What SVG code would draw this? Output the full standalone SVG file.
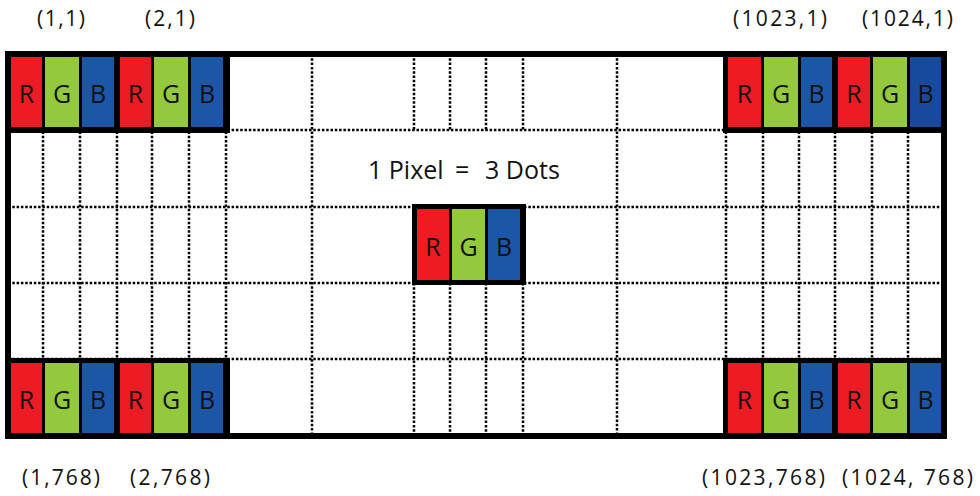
<svg xmlns="http://www.w3.org/2000/svg" width="980" height="496" viewBox="0 0 980 496">
<style>
.dot{stroke:#000;stroke-width:2.5;stroke-dasharray:2.5 1.8;fill:none}
.frame{fill:none;stroke:#000;stroke-width:6}
.blk{fill:#000}
.r{fill:#ED1C24}
.g{fill:#94C83D}
.b{fill:#1B57A6}
.bd{fill:#174A9C}
.cl{font-family:"Open Sans","Noto Sans","DejaVu Sans",sans-serif;font-size:25px;fill:#111;text-anchor:middle}
.lbl{font-family:"Open Sans","Noto Sans","DejaVu Sans",sans-serif;font-size:21px;fill:#111;text-anchor:middle}
.title{font-family:"Open Sans","Noto Sans","DejaVu Sans",sans-serif;font-size:25px;fill:#111}
</style>
<rect x="0" y="0" width="980" height="496" fill="#fff"/>
<g id="connectors">
<path class="dot" d="M43 54V436M80 54V436M117 54V436M152 54V436M189 54V436M226 54V436M312 54V436M617 54V436M726 54V436M763 54V436M799 54V436M835 54V436M872 54V436M908 54V436"/>
<path class="dot" d="M414 54V130M450 54V130M486 54V130M523 54V130M414 283V436M450 283V436M486 283V436M523 283V436"/>
<path class="dot" d="M8 130H944M8 207H944M8 283H944M8 359H944"/>
</g>
<g id="frame"><rect class="frame" x="8" y="54" width="936" height="382"/></g>
<g id="pixel-1-1">
<rect class="blk" x="5" y="51" width="225" height="82"/>
<rect class="r" x="11" y="57" width="31" height="70"/><rect class="g" x="45" y="57" width="34" height="70"/><rect class="b" x="82" y="57" width="32" height="70"/>
<rect class="r" x="120" y="57" width="31" height="70"/><rect class="g" x="154" y="57" width="34" height="70"/><rect class="b" x="191" y="57" width="32" height="70"/>
<text class="cl" x="26.5" y="103">R</text><text class="cl" x="62" y="103">G</text><text class="cl" x="98" y="103">B</text>
<text class="cl" x="135.5" y="103">R</text><text class="cl" x="171" y="103">G</text><text class="cl" x="207" y="103">B</text>
</g>
<g id="pixel-1023-1">
<rect class="blk" x="723" y="51" width="224" height="82"/>
<rect class="r" x="728" y="57" width="33" height="70"/><rect class="g" x="764" y="57" width="34" height="70"/><rect class="b" x="801" y="57" width="31" height="70"/>
<rect class="r" x="838" y="57" width="32" height="70"/><rect class="g" x="873" y="57" width="34" height="70"/><rect class="bd" x="910" y="57" width="31" height="70"/>
<text class="cl" x="744.5" y="103">R</text><text class="cl" x="781" y="103">G</text><text class="cl" x="816.5" y="103">B</text>
<text class="cl" x="854" y="103">R</text><text class="cl" x="890" y="103">G</text><text class="cl" x="925.5" y="103">B</text>
</g>
<g id="pixel-1-768">
<rect class="blk" x="5" y="358" width="225" height="81"/>
<rect class="r" x="11" y="363" width="31" height="70"/><rect class="g" x="45" y="363" width="34" height="70"/><rect class="b" x="82" y="363" width="32" height="70"/>
<rect class="r" x="120" y="363" width="31" height="70"/><rect class="g" x="154" y="363" width="34" height="70"/><rect class="b" x="191" y="363" width="32" height="70"/>
<text class="cl" x="26.5" y="409">R</text><text class="cl" x="62" y="409">G</text><text class="cl" x="98" y="409">B</text>
<text class="cl" x="135.5" y="409">R</text><text class="cl" x="171" y="409">G</text><text class="cl" x="207" y="409">B</text>
</g>
<g id="pixel-1023-768">
<rect class="blk" x="723" y="358" width="224" height="81"/>
<rect class="r" x="728" y="363" width="33" height="70"/><rect class="g" x="764" y="363" width="34" height="70"/><rect class="b" x="801" y="363" width="31" height="70"/>
<rect class="r" x="838" y="363" width="32" height="70"/><rect class="g" x="873" y="363" width="34" height="70"/><rect class="b" x="910" y="363" width="31" height="70"/>
<text class="cl" x="744.5" y="409">R</text><text class="cl" x="781" y="409">G</text><text class="cl" x="816.5" y="409">B</text>
<text class="cl" x="854" y="409">R</text><text class="cl" x="890" y="409">G</text><text class="cl" x="925.5" y="409">B</text>
</g>
<g id="pixel-center">
<rect class="blk" x="412" y="204" width="114" height="81"/>
<rect class="r" x="417" y="209" width="32" height="71"/><rect class="g" x="452" y="209" width="33" height="71"/><rect class="b" x="488" y="209" width="32" height="71"/>
<text class="cl" x="433" y="256">R</text><text class="cl" x="468.5" y="256">G</text><text class="cl" x="504" y="256">B</text>
</g>
<g id="title"><text class="title" x="368" y="179">1 Pixel <tspan x="455">=</tspan> <tspan x="485">3 Dots</tspan></text></g>
<g id="labels">
<text class="lbl" x="61" y="26" textLength="48" lengthAdjust="spacing">(1,1)</text>
<text class="lbl" x="170" y="26" textLength="50" lengthAdjust="spacing">(2,1)</text>
<text class="lbl" x="780" y="26" textLength="94" lengthAdjust="spacing">(1023,1)</text>
<text class="lbl" x="907.5" y="26" textLength="91" lengthAdjust="spacing">(1024,1)</text>
<text class="lbl" x="61" y="485" textLength="78" lengthAdjust="spacing">(1,768)</text>
<text class="lbl" x="170" y="485" textLength="80" lengthAdjust="spacing">(2,768)</text>
<text class="lbl" x="763.5" y="485" textLength="123" lengthAdjust="spacing">(1023,768)</text>
<text class="lbl" x="907.5" y="485" textLength="131" lengthAdjust="spacing">(1024, 768)</text>
</g>
</svg>
